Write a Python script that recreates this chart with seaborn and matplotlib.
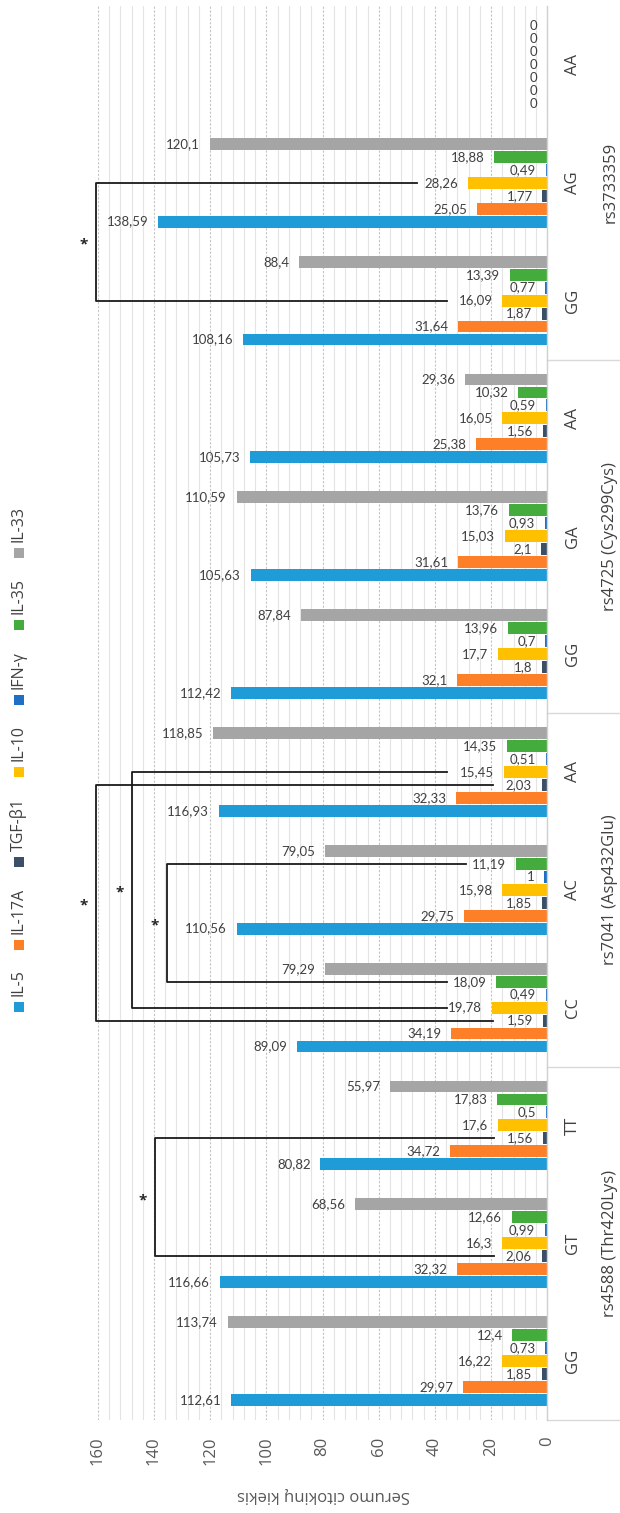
import numpy as np
import pandas as pd
import matplotlib
matplotlib.use("Agg")
import matplotlib.pyplot as plt
import matplotlib.transforms as mtransforms
from matplotlib.patches import Rectangle
import seaborn as sns

# ---- data -------------------------------------------------------------
snp_labels = ["rs4588 (Thr420Lys)", "rs7041 (Asp432Glu)",
              "rs4725 (Cys299Cys)", "rs3733359"]
snp_ids = ["rs4588"] * 3 + ["rs7041"] * 3 + ["rs4725"] * 3 + ["rs3733359"] * 3
genotypes = ["GG", "GT", "TT", "CC", "AC", "AA", "GG", "GA", "AA", "GG", "AG", "AA"]

cytokines = ["IL-5", "IL-17A", "TGF-β1", "IL-10", "IFN-γ", "IL-35", "IL-33"]
colors = ["#1f9bd7", "#fd7f28", "#3b5068", "#ffc000", "#1f6fc5", "#43ac3c", "#a5a5a5"]

il5 = [112.61, 116.66, 80.82, 89.09, 110.56, 116.93, 112.42, 105.63, 105.73, 108.16, 138.59, 0]
il17a = [29.97, 32.32, 34.72, 34.19, 29.75, 32.33, 32.1, 31.61, 25.38, 31.64, 25.05, 0]
tgfb1 = [1.85, 2.06, 1.56, 1.59, 1.85, 2.03, 1.8, 2.1, 1.56, 1.87, 1.77, 0]
il10 = [16.22, 16.3, 17.6, 19.78, 15.98, 15.45, 17.7, 15.03, 16.05, 16.09, 28.26, 0]
ifng = [0.73, 0.99, 0.5, 0.49, 1, 0.51, 0.7, 0.93, 0.59, 0.77, 0.49, 0]
il35 = [12.4, 12.66, 17.83, 18.09, 11.19, 14.35, 13.96, 13.76, 10.32, 13.39, 18.88, 0]
il33 = [113.74, 68.56, 55.97, 79.29, 79.05, 118.85, 87.84, 110.59, 29.36, 88.4, 120.1, 0]

# significant pairwise differences:
# (group A, group B, cytokine row, bracket x, line end A, line end B)
brackets = [
    ("rs3733359 AG", "rs3733359 GG", "IL-10", 160.6, 46.4, 35.7),
    ("rs7041 AA", "rs7041 CC", "TGF-β1", 160.6, 19.3, 19.3),
    ("rs7041 AA", "rs7041 CC", "IL-10", 147.8, 35.7, 35.7),
    ("rs7041 AC", "rs7041 CC", "IL-35", 135.3, 28.9, 35.7),
    ("rs4588 TT", "rs4588 GT", "TGF-β1", 139.6, 19.0, 19.0),
]

series = [il5, il17a, tgfb1, il10, ifng, il35, il33]
keys = [f"{s} {g}" for s, g in zip(snp_ids, genotypes)]
df = pd.DataFrame({
    "key": np.repeat(keys, len(cytokines)),
    "cytokine": cytokines * len(keys),
    "value": [series[j][i] for i in range(len(keys)) for j in range(len(cytokines))],
})

# ---- figure -----------------------------------------------------------
W_PX, H_PX = 620, 1513
plt.rcParams["font.family"] = ["Open Sans", "DejaVu Sans"]
fig = plt.figure(figsize=(W_PX / 100, H_PX / 100), dpi=100)

ax_left, ax_right, ax_top, ax_bottom = 97.8, 547.3, 6, 1420
ax = fig.add_axes([ax_left / W_PX, 1 - ax_bottom / H_PX,
                   (ax_right - ax_left) / W_PX, (ax_bottom - ax_top) / H_PX])

BAR_W = 0.77
sns.barplot(data=df, x="value", y="key", hue="cytokine", order=keys,
            hue_order=cytokines, palette=dict(zip(cytokines, colors)),
            orient="h", width=BAR_W, gap=0.08, errorbar=None, saturation=1,
            legend=False, ax=ax, zorder=2)

ax.set_xlim(160, 0)
ax.set_ylim(-0.5, len(keys) - 0.5)
ax.set_xticks(np.arange(0, 161, 20))
ax.set_xticks(np.arange(0, 161, 4), minor=True)
ax.grid(axis="x", which="minor", color="#e4e4e4", lw=0.8)
ax.grid(axis="x", which="major", color="#c4c4c4", lw=0.8, ls=(0, (2, 1.5)))
ax.grid(axis="y", visible=False)
ax.set_axisbelow(True)
ax.tick_params(axis="x", which="both", length=0, pad=12, labelsize=12,
               labelcolor="#595959", labelrotation=90)
ax.set_yticks([])
ax.set_xlabel("")
ax.set_ylabel("")
for side in ("top", "left", "bottom"):
    ax.spines[side].set_visible(False)
ax.spines["right"].set_color("#d0d0d0")
ax.spines["right"].set_linewidth(1)


def bar_y(cat_idx, hue_idx):
    return cat_idx + (hue_idx - (len(cytokines) - 1) / 2) * BAR_W / len(cytokines)


def fmt(v):
    return f"{v:g}".replace(".", ",")


# value labels
for i in range(len(keys)):
    for j, vals in enumerate(series):
        ax.annotate(fmt(vals[i]), xy=(vals[i], bar_y(i, j)), xytext=(-7, 0),
                    textcoords="offset points", ha="right", va="center",
                    fontsize=9.5, color="#404040", family=["Lato", "DejaVu Sans"])

# significance brackets
for a, b, cyt, xv, ea, eb in brackets:
    ia, ib = keys.index(a), keys.index(b)
    j = cytokines.index(cyt)
    ya, yb = bar_y(ia, j), bar_y(ib, j)
    ax.plot([ea, xv, xv, eb], [ya, ya, yb, yb], color="#1a1a1a", lw=1.3,
            clip_on=False, zorder=3)
    ax.annotate("*", xy=(xv, (ya + yb) / 2), xytext=(-9, -2),
                textcoords="offset points", ha="center", va="center",
                fontsize=11, fontweight="bold", color="#262626",
                annotation_clip=False)

# category axis on the right
trans = mtransforms.blended_transform_factory(ax.transAxes, ax.transData)
for i, g in enumerate(genotypes):
    ax.text(1.057, i, g, transform=trans, rotation=90, ha="center",
            va="center", fontsize=12, color="#404040")
for k, name in enumerate(snp_labels):
    ax.text(1.14, 3 * k + 1, name, transform=trans, rotation=90, ha="center",
            va="center", fontsize=12, color="#404040")
for yb in (-0.5, 2.5, 5.5, 8.5):
    ax.plot([1, 1.2], [yb, yb], transform=trans, color="#d9d9d9", lw=1,
            clip_on=False)

# value axis title
fig.text(323 / W_PX, 1 - 1495 / H_PX, "Serumo citokinų kiekis", rotation=180,
         ha="center", va="center", fontsize=12, color="#595959")

# legend
legend_y = [1007, 945, 862, 772, 700, 625, 553]
lx, msz = 18.5, 10
for name, col, my in zip(cytokines, colors, legend_y):
    fig.add_artist(Rectangle(((lx - msz / 2) / W_PX, 1 - (my + msz / 2) / H_PX),
                             msz / W_PX, msz / H_PX, transform=fig.transFigure,
                             color=col, lw=0))
    fig.text(lx / W_PX, 1 - (my - msz / 2 - 6) / H_PX, name, rotation=90,
             ha="center", va="bottom", fontsize=11.5, color="#404040")

fig.savefig("out.png", dpi=100)
